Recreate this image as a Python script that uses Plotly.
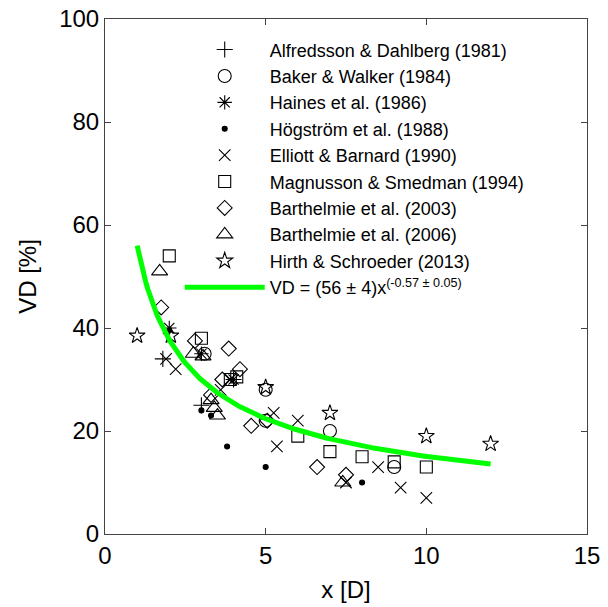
import numpy as np
import plotly.graph_objects as go

# Velocity deficit measurements at hub height versus downstream distance
alfredsson_x = [1.8, 3.0, 4.0]
alfredsson_y = [34, 25, 30]

baker_x = [3.1, 5.0, 5.0, 7.0, 9.0]
baker_y = [35, 28, 22, 20, 13]

haines_x = [2.0, 3.0, 4.0]
haines_y = [40, 35, 30]

hogstrom_x = [2.0, 3.0, 3.3, 3.8, 5.0, 8.0]
hogstrom_y = [39.5, 24, 23, 17, 13, 10]

elliott_x = [1.9, 2.2, 3.6, 3.9, 5.25, 5.35, 6.0, 7.5, 8.5, 9.2, 10.0]
elliott_y = [34, 32, 28, 30, 23.5, 17, 22, 10, 13, 9, 7]

magnusson_x = [2.0, 3.0, 3.9, 4.1, 6.0, 7.0, 8.0, 9.0, 10.0]
magnusson_y = [54, 38, 30, 30.5, 19, 16, 15, 14, 13]

barth03_x = [1.75, 2.8, 3.3, 3.65, 3.85, 4.2, 4.55, 5.05, 6.6, 7.5]
barth03_y = [44, 37.5, 27, 30, 36, 32, 21, 22, 13, 11.5]

barth06_x = [1.7, 2.75, 3.05, 3.3, 3.4, 3.5, 7.4]
barth06_y = [51, 35, 34.5, 26, 24.5, 23, 10]

hirth_x = [1.0, 2.05, 5.0, 7.0, 10.0, 12.0]
hirth_y = [38.5, 38.5, 28.5, 23.5, 19, 17.5]

# Power-law fit VD = a * x^b
fit_a = 56
fit_b = -0.57
fit_x = np.linspace(1, 12, 200)
fit_y = fit_a * fit_x ** fit_b

FONT = "Liberation Sans, Arial, sans-serif"

series = [
    ("Alfredsson &amp; Dahlberg (1981)", alfredsson_x, alfredsson_y, "cross-thin-open", 11.5),
    ("Baker &amp; Walker (1984)", baker_x, baker_y, "circle-open", 13),
    ("Haines et al. (1986)", haines_x, haines_y, "asterisk-open", 12),
    ("Högström et al. (1988)", hogstrom_x, hogstrom_y, "circle", 5),
    ("Elliott &amp; Barnard (1990)", elliott_x, elliott_y, "x-thin-open", 11.5),
    ("Magnusson &amp; Smedman (1994)", magnusson_x, magnusson_y, "square-open", 12),
    ("Barthelmie et al. (2003)", barth03_x, barth03_y, "diamond-open", 11.5),
    ("Barthelmie et al. (2006)", barth06_x, barth06_y, "triangle-up-open", 14),
    ("Hirth &amp; Schroeder (2013)", hirth_x, hirth_y, "star-open", 12),
]

fig = go.Figure()
for name, xs, ys, sym, size in series:
    fig.add_trace(go.Scatter(
        x=xs, y=ys, mode="markers", name=name,
        marker=dict(symbol=sym, size=size, color="black",
                    line=dict(color="black", width=1.1)),
    ))

fig.add_trace(go.Scatter(
    x=fit_x, y=fit_y, mode="lines",
    name="VD = (56 ± 4)x<sup>(-0.57 ± 0.05)</sup>",
    line=dict(color="#00ff00", width=5),
))

axis_common = dict(
    showline=True, linecolor="#444", linewidth=1, mirror="ticks",
    ticks="inside", ticklen=6, tickcolor="#444", tickwidth=1,
    showgrid=False, zeroline=False, automargin=False,
    tickfont=dict(family=FONT, size=24, color="black"),
    title_font=dict(family=FONT, size=24, color="black"),
)

fig.update_xaxes(range=[0, 15], tickvals=[0, 5, 10, 15],
                 title_text="x [D]", title_standoff=13, **axis_common)
fig.update_yaxes(range=[0, 100], tickvals=[0, 20, 40, 60, 80, 100],
                 title_text="VD [%]", title_standoff=15, **axis_common)

fig.update_layout(
    width=608, height=607,
    margin=dict(l=105, r=21, t=19, b=73),
    paper_bgcolor="white", plot_bgcolor="white",
    font=dict(family=FONT, color="black"),
    showlegend=True,
    legend=dict(
        x=0.155, y=0.976, xanchor="left", yanchor="top",
        bgcolor="rgba(0,0,0,0)", borderwidth=0,
        itemwidth=80, tracegroupgap=0,
        font=dict(family=FONT, size=18, color="black"),
    ),
)

fig.write_html("out.html")
